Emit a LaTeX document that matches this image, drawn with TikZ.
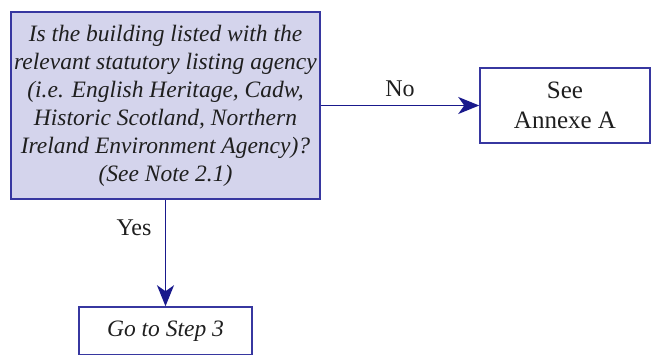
\documentclass[tikz,border=0pt]{standalone}
\usepackage{fontspec}
\setmainfont{Liberation Serif}
\usetikzlibrary{arrows.meta}
\definecolor{lineblue}{RGB}{25,25,140}
\definecolor{boxline}{RGB}{55,55,160}
\definecolor{boxfill}{RGB}{212,212,236}
\tikzset{
  box/.style={draw=boxline, line width=1.5pt, inner sep=0pt, align=center, font=\fontsize{23.5}{28}\selectfont, text=black!88},
  conn/.style={draw=lineblue, line width=1.6pt, -{Stealth[length=21pt,width=17pt,inset=6pt]}},
  lbl/.style={font=\fontsize{24}{26}\selectfont, text=black!88}
}
\begin{document}
\begin{tikzpicture}[x=1pt,y=-1pt]
\useasboundingbox (0,0) rectangle (651,355);
\node[box, fill=boxfill, minimum width=309pt, minimum height=187pt] (q) at (165.5,105.5)
  {\itshape Is the building listed with the\\ \itshape relevant statutory listing agency\\ \itshape (i.e. English Heritage, Cadw,\\ \itshape Historic Scotland, Northern\\ \itshape Ireland Environment Agency)?\\ \itshape (See Note 2.1)};
\node[box, minimum width=170pt, minimum height=75pt, font=\fontsize{25}{30}\selectfont] (a) at (565,105.5) {See\\Annexe A};
\node[box, minimum width=173pt, minimum height=48pt] (s) at (165.5,331) {\itshape Go to Step 3};
\draw[conn] (q.east) -- node[lbl, above=5pt] {No} (a.west);
\draw[conn] (q.south) -- (s.north);
\node[lbl] (yes) at (134,228) {Yes};
\end{tikzpicture}
\end{document}
